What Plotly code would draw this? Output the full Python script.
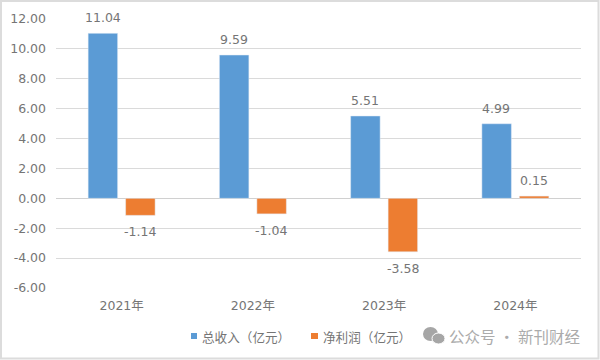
import plotly.graph_objects as go

categories = ["2021年", "2022年", "2023年", "2024年"]
revenue = [11.04, 9.59, 5.51, 4.99]
profit = [-1.14, -1.04, -3.58, 0.15]
tick_vals = [12, 10, 8, 6, 4, 2, 0, -2, -4, -6]
tick_text = ["12.00", "10.00", "8.00", "6.00", "4.00", "2.00", "0.00", "-2.00", "-4.00", "-6.00"]
series_names = ["总收入（亿元）", "净利润（亿元）"]
watermark = "公众号 · 新刊财经"
FONT = "DejaVu Sans, Noto Sans CJK SC"
CJK = "Noto Sans CJK SC"
GREY = "#757575"
BLUE = "#5b9bd5"
ORANGE = "#ed7d31"

L, R, T, B = 56, 19, 19, 72
PW, PH = 600 - L - R, 360 - T - B


def px(x):
    return (x - L) / PW


def py(y):
    return (360 - B - y) / PH


def box(x0, x1, y0, y1, **kw):
    return dict(type=kw.pop("type", "rect"), xref="paper", yref="paper", x0=px(x0), x1=px(x1),
                y0=py(y1), y1=py(y0), **kw)


fig = go.Figure()
fig.add_bar(x=categories, y=revenue, name=series_names[0], marker_color=BLUE, showlegend=False)
fig.add_bar(x=categories, y=profit, name=series_names[1], marker_color=ORANGE, showlegend=False)

notes = []
for cat, v in zip(categories, revenue):
    notes.append(dict(x=cat, y=v, xref="x", yref="y", text=f"{v:.2f}", showarrow=False,
                      xshift=-19, yshift=15.5, font=dict(size=12.5, color=GREY, family=FONT)))
for cat, v in zip(categories, profit):
    notes.append(dict(x=cat, y=v, xref="x", yref="y", text=f"{v:.2f}", showarrow=False,
                      xshift=18.5, yshift=16 if v > 0 else -16.5,
                      font=dict(size=12.5, color=GREY, family=FONT)))
for x, name in zip([200, 321], series_names):
    notes.append(dict(xref="paper", yref="paper", x=px(x), y=py(336), text=name, xanchor="left",
                      yanchor="middle", showarrow=False, font=dict(size=12.6, color=GREY, family=CJK)))
notes.append(dict(xref="paper", yref="paper", x=px(582), y=py(335.5), text=watermark, xanchor="right",
                  yanchor="middle", showarrow=False, font=dict(size=15.5, color="#ababab", family=CJK)))

shapes = [
    box(1, 598.5, 1, 358.5, line=dict(color="#dcdcdc", width=2), fillcolor="rgba(0,0,0,0)", layer="below"),
    box(191, 197, 333, 339, fillcolor=BLUE, line_width=0),
    box(311, 318, 333, 339, fillcolor=ORANGE, line_width=0),
    box(423, 438, 327, 341, type="circle", fillcolor="#a6a6a6", line_width=0),
    box(432, 445, 333, 344, type="circle", fillcolor="#a6a6a6", line=dict(color="white", width=1)),
]

fig.update_layout(
    width=600, height=360, barmode="group", bargap=0.429, bargroupgap=0.213,
    paper_bgcolor="white", plot_bgcolor="white", font=dict(family=FONT, color=GREY, size=12),
    margin=dict(l=L, r=R, t=T, b=B, autoexpand=False), showlegend=False, annotations=notes, shapes=shapes,
)
fig.update_xaxes(type="category", range=[-0.5, 3.5], showgrid=False, zeroline=False, showline=False,
                 ticks="", anchor="free", position=0, ticklabelstandoff=8, automargin=False,
                 tickfont=dict(size=12.5, color=GREY, family=FONT))
fig.update_yaxes(range=[-6, 12], tickvals=tick_vals, ticktext=tick_text, gridcolor="#dadada",
                 gridwidth=1.3, zeroline=True, zerolinecolor="#d0d0d0", zerolinewidth=1.3,
                 showline=False, ticks="", ticklabelstandoff=9, automargin=False,
                 tickfont=dict(size=12.5, color=GREY, family=FONT))
fig.write_html("out.html", config=dict(displayModeBar=False),
               post_script="document.body.style.margin='0';")
